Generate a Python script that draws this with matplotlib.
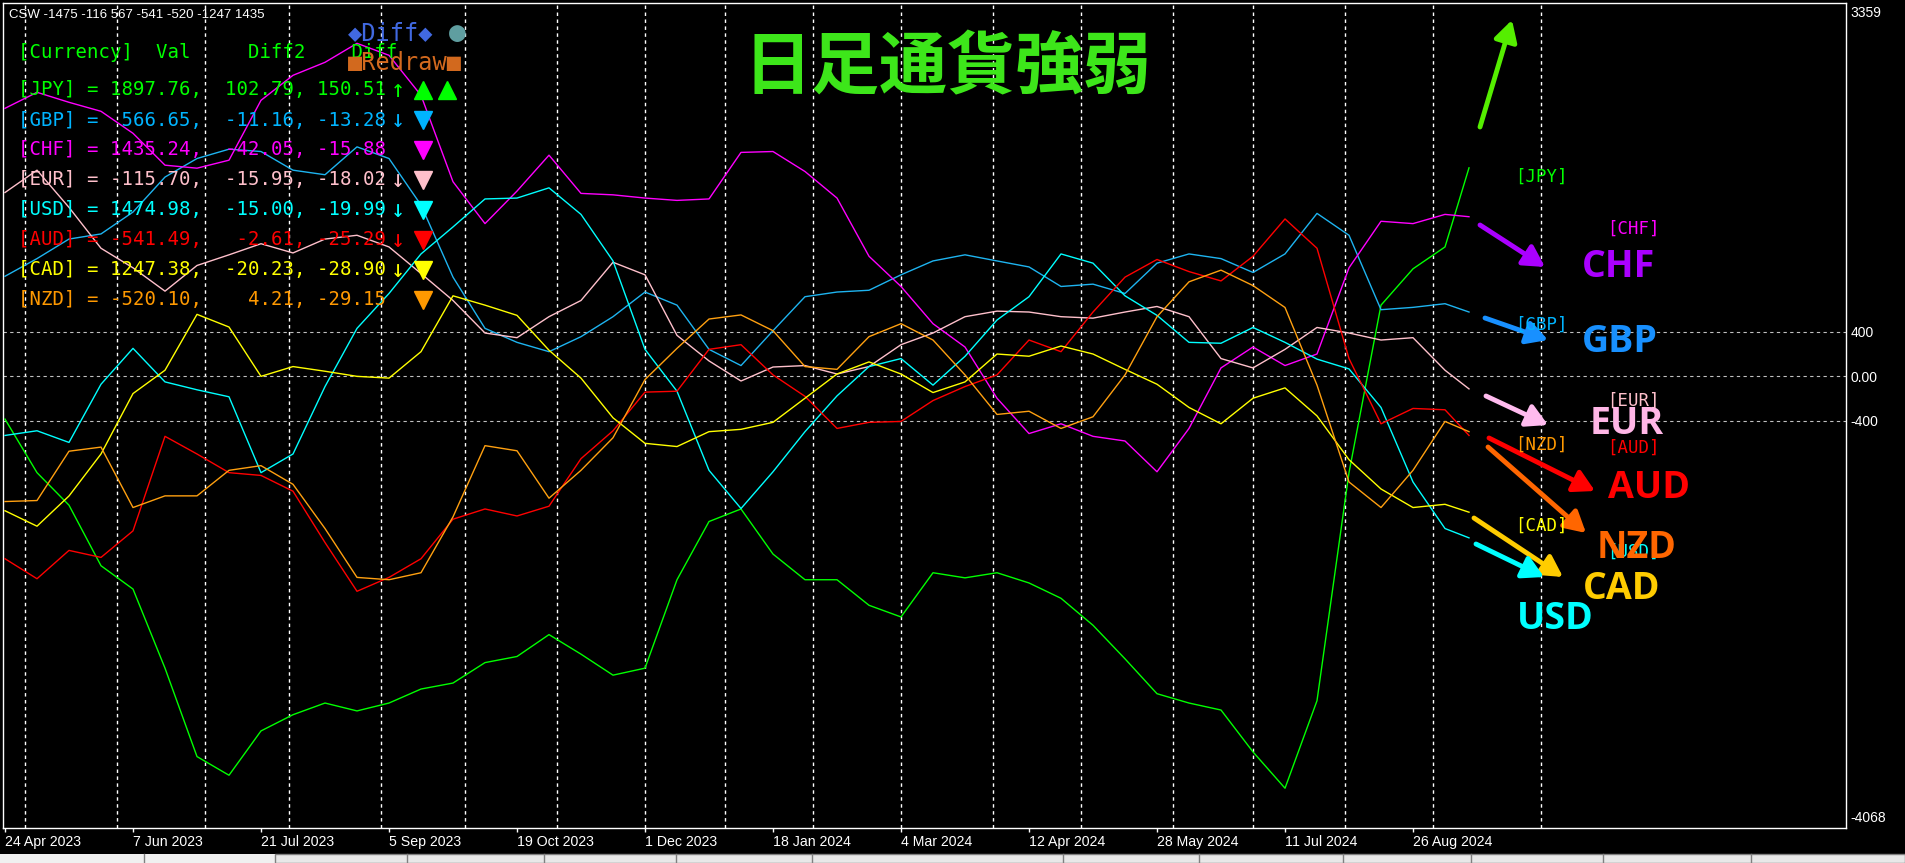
import matplotlib.pyplot as plt
from matplotlib.patches import FancyArrowPatch, Rectangle
from matplotlib.lines import Line2D

W, H = 1905, 863

# bar index of each sample (daily bars, every 8th bar + last bar)
bars = list(range(0, 361, 8)) + [366]

jpy = [-387, -869, -1162, -1707, -1917, -2629, -3425, -3593, -3194, -3048, -2943, -3014,
       -2943, -2817, -2763, -2579, -2524, -2327, -2503, -2692, -2629, -1833, -1309, -1196,
       -1602, -1833, -1833, -2063, -2168, -1770, -1816, -1770, -1862, -2000, -2243, -2545,
       -2859, -2943, -3006, -3383, -3710, -2922, -869, 639, 966, 1163, 1875]
gbp = [899, 1058, 1234, 1280, 1477, 1792, 1959, 2043, 2022, 1854, 1813, 2064,
       1959, 1540, 891, 430, 304, 220, 355, 535, 757, 639, 241, 95,
       409, 715, 757, 773, 912, 1037, 1092, 1037, 983, 807, 828, 744,
       1017, 1100, 1058, 933, 1100, 1465, 1268, 598, 619, 652, 577]
chf = [2411, 2555, 2465, 2384, 2186, 1899, 1872, 1944, 2483, 2708, 2825, 2996,
       2888, 2528, 1750, 1373, 1666, 1989, 1645, 1632, 1603, 1582, 1595, 2014,
       2022, 1842, 1603, 1079, 807, 472, 262, -199, -517, -429, -542, -584,
       -861, -471, 74, 262, 95, 199, 975, 1394, 1373, 1456, 1435]
eur = [1653, 1854, 1519, 1151, 975, 765, 996, 1092, 1192, 1109, 1234, 1268,
       1163, 924, 681, 388, 346, 535, 681, 1025, 912, 367, 137, -44,
       82, 95, 19, 86, 283, 388, 535, 585, 577, 535, 522, 577,
       627, 535, 158, 74, 241, 438, 388, 325, 346, 53, -115]
usd = [-534, -492, -597, -73, 250, -52, -123, -186, -869, -701, -94, 430,
       744, 1100, 1343, 1595, 1603, 1695, 1456, 1037, 241, -136, -848, -1192,
       -861, -500, -178, 86, 158, -81, 178, 505, 715, 1100, 1017, 723,
       547, 304, 296, 438, 304, 153, 65, -282, -953, -1372, -1456]
aud = [-1644, -1824, -1569, -1632, -1393, -542, -701, -869, -894, -1036, -1498, -1937,
       -1812, -1644, -1288, -1196, -1259, -1171, -743, -492, -144, -136, 241, 283,
       11, -182, -471, -416, -408, -220, -94, 11, 325, 220, 577, 891,
       1050, 941, 857, 1079, 1415, 1151, 158, -429, -291, -303, -534]
cad = [-1212, -1351, -1079, -701, -157, 53, 556, 442, -2, 86, 44, -2,
       -18, 220, 723, 639, 547, 233, -18, -375, -605, -634, -500, -479,
       -416, -199, 19, 128, 19, -148, -52, 199, 179, 271, 199, 61,
       -73, -282, -429, -199, -106, -358, -752, -1016, -1183, -1154, -1225]
nzd = [-1129, -1120, -676, -639, -1183, -1078, -1078, -848, -806, -974, -1372, -1812,
       -1833, -1770, -1267, -626, -672, -1099, -848, -555, -31, 250, 514, 551,
       409, 86, 61, 355, 472, 325, 11, -345, -316, -471, -366, 11,
       535, 849, 954, 815, 618, -81, -953, -1183, -848, -408, -500]

date_bars = [0, 32, 64, 96, 128, 160, 192, 224, 256, 288, 320, 352]
date_labels = ['24 Apr 2023', '7 Jun 2023', '21 Jul 2023', '5 Sep 2023', '19 Oct 2023',
               '1 Dec 2023', '18 Jan 2024', '4 Mar 2024', '12 Apr 2024', '28 May 2024',
               '11 Jul 2024', '26 Aug 2024']
month_bars = [5, 28, 50, 71, 94, 115, 138, 160, 180, 202, 224, 247, 269, 292, 312, 335, 357, 384]

y_top, y_bottom = 3359, -4068

# legend table
names = ['JPY', 'GBP', 'CHF', 'EUR', 'USD', 'AUD', 'CAD', 'NZD']
vals = [1897.76, 566.65, 1435.24, -115.70, 1474.98, -541.49, 1247.38, -520.10]
diff2 = [102.79, -11.16, -42.05, -15.95, -15.00, -2.61, -20.23, 4.21]
diff = [150.51, -13.28, -15.88, -18.02, -19.99, -25.29, -28.90, -29.15]
trend = ['↑', '↓', '', '↓', '↓', '↓', '↓', '']
marks = ['^^', 'v', 'v', 'v', 'v', 'v', 'v', 'v']
row_colors = ['#00ff00', '#00b4ff', '#ff00ff', '#ffc0cb', '#00ffff', '#ff0000', '#ffff00', '#ff9900']

series = [('JPY', jpy, '#00ff00'), ('GBP', gbp, '#1eb4f0'), ('CHF', chf, '#ff00ff'),
          ('EUR', eur, '#ffc0cb'), ('USD', usd, '#00ffff'), ('AUD', aud, '#ff0000'),
          ('CAD', cad, '#ffff00'), ('NZD', nzd, '#ffa010')]


def fpos(x, y):
    # pixel position (from top-left) -> figure fraction
    return x / W, 1 - y / H


fig = plt.figure(figsize=(W / 100, H / 100), dpi=100, facecolor='black')
ax = fig.add_axes([3 / W, 35 / H, 1843 / W, 825 / H])
ax.set_facecolor('black')
ax.set_xlim(-0.5, 460.25)
ax.set_ylim(y_bottom, y_top)

for b in month_bars:
    ax.axvline(b, color='white', lw=1, ls=(0, (2.5, 2.5)), zorder=1)
for v in [400, 0, -400]:
    ax.axhline(v, color='#bfbfbf', lw=0.8, ls=(0, (3, 3)), zorder=1)

for name, s, c in series:
    ax.plot(bars, s, color=c, lw=1.0, zorder=3)

for sp in ax.spines.values():
    sp.set_color('white')
    sp.set_linewidth(1)

ax.set_xticks(date_bars)
ax.set_xticklabels(date_labels, ha='left', fontsize=10.2, family='Liberation Sans', color='white')
ax.tick_params(axis='x', colors='white', length=3, width=1, pad=2)
ax.yaxis.tick_right()
ax.set_yticks([400, 0, -400])
ax.set_yticklabels(['400', '0.00', '-400'], fontsize=10, family='Liberation Sans', color='white')
ax.tick_params(axis='y', length=0, pad=3)

fig.text(*fpos(1850, 13), '3359', ha='left', va='center', fontsize=10,
         family='Liberation Sans', color='white')
fig.text(*fpos(1850, 818), '-4068', ha='left', va='center', fontsize=10,
         family='Liberation Sans', color='white')

# header line
fig.text(*fpos(9, 15), 'CSW -1475 -116 567 -541 -520 -1247 1435', ha='left', va='center',
         fontsize=9.5, family='Liberation Sans', color='white')

mono = ['DejaVu Sans Mono', 'DejaVu Sans']
fig.text(*fpos(18, 52), '[Currency]  Val     Diff2    Diff', ha='left', va='center',
         fontsize=13.7, family=mono, color='#00ff00', zorder=2)
fig.text(*fpos(348, 33), '◆Diff◆', ha='left', va='center', fontsize=17, family=mono,
         color='#4169e1', zorder=3)
fig.text(*fpos(457, 33), '●', ha='center', va='center', fontsize=20, family=mono,
         color='#5f9ea0', zorder=3)
fig.text(*fpos(348, 63), '■Redraw■', ha='left', va='center', fontsize=17, family=mono,
         color='#d2691e', zorder=3)

for k, nm in enumerate(names):
    y = 90 + 30 * k
    row = f'[{nm}] = {vals[k]:7.2f},{diff2[k]:8.2f},{diff[k]:7.2f}'
    fig.text(*fpos(18, y), row, ha='left', va='center', fontsize=13.7, family=mono,
             color=row_colors[k])
    if trend[k]:
        fig.text(*fpos(398, y), trend[k], ha='center', va='center', fontsize=17,
                 family=mono, color=row_colors[k])
    for j, m in enumerate(marks[k]):
        fig.add_artist(Line2D([fpos(423 + 24 * j, y)[0]], [fpos(423 + 24 * j, y)[1]],
                              marker=m, ms=13, color=row_colors[k], ls='none',
                              transform=fig.transFigure))

# title
fig.text(*fpos(948, 69), '日足通貨強弱', ha='center', va='center', fontsize=49,
         family=['Noto Sans CJK JP', 'DejaVu Sans'], weight='bold', color='#3de61a')

# small bracket labels
small = [('[JPY]', 1515, 177, '#00ff00'), ('[CHF]', 1607, 229, '#ff00ff'),
         ('[GBP]', 1515, 325, '#00b4ff'), ('[EUR]', 1607, 401, '#ffc0cb'),
         ('[AUD]', 1607, 448, '#ff0000'), ('[NZD]', 1515, 445, '#ff9900'),
         ('[USD]', 1607, 552, '#00ffff'), ('[CAD]', 1515, 526, '#ffff00')]
for s, x, y, c in small:
    fig.text(*fpos(x, y), s, ha='left', va='center', fontsize=12.5, family=mono, color=c)

# direction arrows
arrows = [((1480, 127), (1512, 20), '#55ee00'), ((1480, 225), (1545, 267), '#aa00ff'),
          ((1485, 318), (1548, 340), '#1890ff'), ((1486, 396), (1548, 425), '#ffbbee'),
          ((1489, 438), (1595, 491), '#ff0000'), ((1488, 447), (1586, 533), '#ff6600'),
          ((1474, 518), (1563, 577), '#ffcc00'), ((1476, 544), (1544, 577), '#00ffff')]
for (x0, y0), (x1, y1), c in arrows:
    fig.add_artist(FancyArrowPatch(fpos(x0, y0), fpos(x1, y1), transform=fig.transFigure,
                                   arrowstyle='-|>,head_length=0.9,head_width=0.5',
                                   mutation_scale=14, lw=3.5, color=c,
                                   shrinkA=0, shrinkB=0))

big = [('CHF', 1582, 267, '#aa00ff'), ('GBP', 1582, 342, '#1890ff'),
       ('EUR', 1590, 424, '#ffb6e6'), ('AUD', 1608, 488, '#ff0000'),
       ('NZD', 1597, 548, '#ff6600'), ('CAD', 1583, 589, '#ffcc00'),
       ('USD', 1517, 619, '#00ffff')]
for s, x, y, c in big:
    fig.text(*fpos(x, y), s, ha='left', va='center', fontsize=27, family='Open Sans',
             weight='bold', color=c)

# bottom tab strip
fig.add_artist(Rectangle(fpos(0, 863), 1, 9 / H, transform=fig.transFigure,
                         facecolor='#f0f0f0', edgecolor='none'))
fig.add_artist(Rectangle(fpos(275, 863), 1 - 275 / W, 9 / H, transform=fig.transFigure,
                         facecolor='#e8e8e8', edgecolor='#808080', lw=1))
for x in [144, 407, 544, 676, 812, 1063, 1199, 1343, 1471, 1603, 1751]:
    fig.add_artist(Line2D([x / W, x / W], [0, 9 / H], color='#808080', lw=1,
                          transform=fig.transFigure))

fig.savefig('out.png', dpi=100, facecolor='black')
